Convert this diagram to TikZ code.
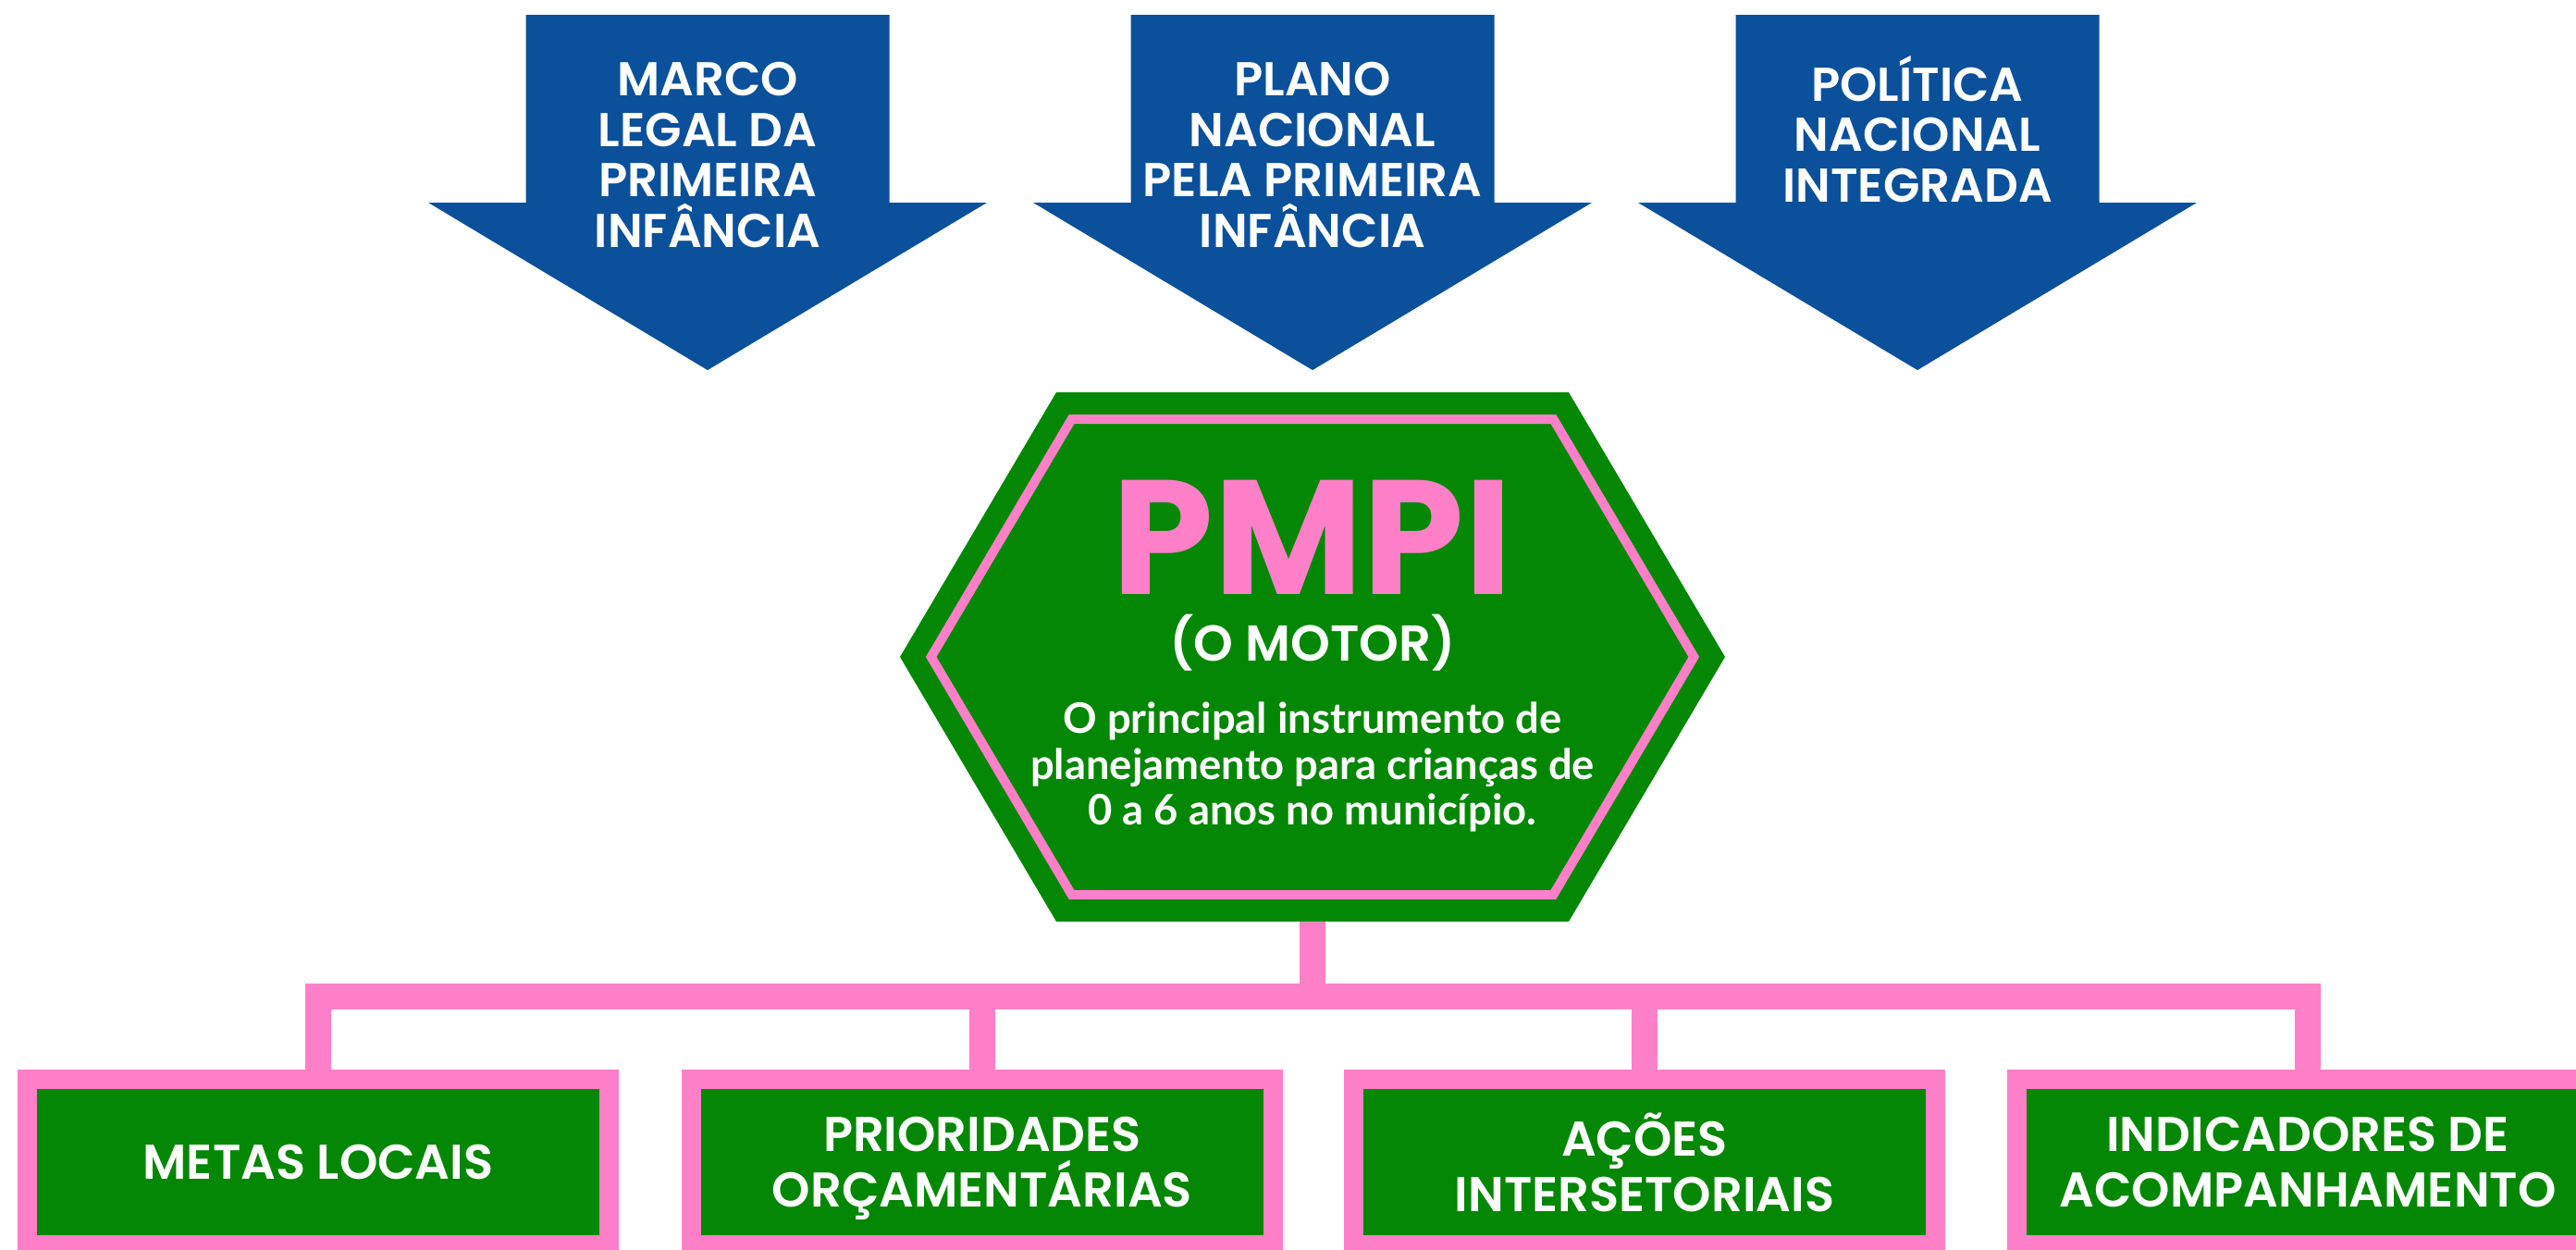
\documentclass[tikz,border=0pt]{standalone}
\usepackage{fontspec}
\setmainfont{Lato}
\newfontfamily\capsfont{Poppins}[BoldFont={Poppins SemiBold}]
\newfontfamily\titlefont{Poppins}
\usetikzlibrary{positioning}
\definecolor{pmblue}{RGB}{11,80,155}
\definecolor{pmgreen}{RGB}{4,135,4}
\definecolor{pmpink}{RGB}{255,128,200}
\tikzset{
  capslabel/.style={text=white,font=\capsfont\bfseries\fontsize{14.6}{15.6}\selectfont,align=center,inner sep=0pt},
  goalbox/.style={draw=pmpink,line width=0.21cm,fill=pmgreen,minimum width=6.29cm,minimum height=1.79cm,
    inner sep=0pt,text depth=0pt,text=white,font=\capsfont\bfseries\fontsize{15}{17}\selectfont,align=center},
  pinkline/.style={draw=pmpink,line width=0.28cm}
}
\begin{document}
\begin{tikzpicture}
\useasboundingbox (0,0) rectangle (27.85,-13.51);
% top arrows
\foreach \cx/\ty/\lbl [count=\i] in {7.65/-1.675/{MARCO\\LEGAL DA\\PRIMEIRA\\INFÂNCIA},
    14.19/-1.675/{PLANO\\NACIONAL\\PELA PRIMEIRA\\INFÂNCIA},20.73/-1.395/{POLÍTICA\\NACIONAL\\INTEGRADA}} {
  \fill[pmblue] (\cx-1.965,-0.16) -- (\cx+1.965,-0.16) -- (\cx+1.965,-2.19) -- (\cx+3.02,-2.19)
    -- (\cx,-4.00) -- (\cx-3.02,-2.19) -- (\cx-1.965,-2.19) -- cycle;
  \node[capslabel] (arr\i) at (\cx,\ty) {\lbl};
}
% hexagon (the motor)
\fill[pmgreen] (9.73,-7.10) -- (11.42,-4.24) -- (16.96,-4.24) -- (18.65,-7.10) -- (16.96,-9.96) -- (11.42,-9.96) -- cycle;
\draw[pmpink,line width=0.1cm] (10.067,-7.10) -- (11.586,-4.53) -- (16.794,-4.53) -- (18.313,-7.10)
  -- (16.794,-9.67) -- (11.586,-9.67) -- cycle;
\node[text=pmpink,font=\titlefont\bfseries\fontsize{50}{50}\selectfont,inner sep=0pt,text height=35pt,text depth=0pt]
  (pmpi) at (14.19,-5.81) {PMPI};
\node[text=white,font=\capsfont\bfseries\fontsize{15.5}{16}\selectfont,inner sep=0pt,text height=11pt,text depth=2pt]
  (motor) at (14.19,-6.99) {(O MOTOR)};
\node[text=white,font=\bfseries\fontsize{12.9}{14.2}\selectfont,align=center,inner sep=0pt] (desc) at (14.19,-8.29)
  {O principal instrumento de\\planejamento para crianças de\\0 a 6 anos no município.};
% outputs
\foreach \x/\lbl [count=\i] in {3.44/{METAS LOCAIS},10.62/{PRIORIDADES\\ORÇAMENTÁRIAS},
    17.78/{AÇÕES\\INTERSETORIAIS},24.95/{INDICADORES DE\\ACOMPANHAMENTO}}
  \node[goalbox] (goal\i) at (\x,-12.56) {\lbl};
\coordinate (hexbot) at (14.19,-9.96);
\coordinate (bus) at (0,-10.77);
\draw[pinkline] (hexbot) -- (hexbot |- bus);
\draw[pinkline,line join=miter] (goal1.north) -- (goal1.north |- bus) -- (goal4.north |- bus) -- (goal4.north);
\draw[pinkline] (goal2.north) -- (goal2.north |- bus);
\draw[pinkline] (goal3.north) -- (goal3.north |- bus);
\end{tikzpicture}
\end{document}
